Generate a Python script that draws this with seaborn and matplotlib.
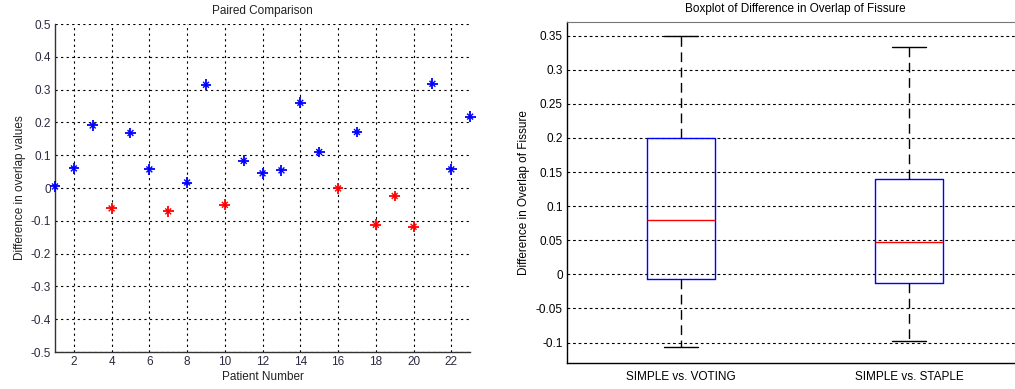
import numpy as np
import pandas as pd
import matplotlib
matplotlib.use("Agg")
import matplotlib.pyplot as plt
from matplotlib.ticker import FormatStrFormatter
import seaborn as sns

# Per-patient difference in overlap values
patients = list(range(1, 24))
differences = [0.005, 0.060, 0.191, -0.062, 0.168, 0.057, -0.071, 0.017, 0.315,
               -0.051, 0.083, 0.045, 0.054, 0.260, 0.110, -0.001, 0.171, -0.112,
               -0.024, -0.118, 0.318, 0.057, 0.218]

# Five-number summaries of the two comparisons (min, Q1, median, Q3, max)
comparisons = ["SIMPLE vs. VOTING", "SIMPLE vs. STAPLE"]
voting_summary = [-0.106, -0.007, 0.079, 0.200, 0.349]
staple_summary = [-0.097, -0.012, 0.048, 0.140, 0.333]

sns.set_style("white")
plt.rcParams["font.family"] = ["Liberation Sans", "DejaVu Sans"]

fig = plt.figure(figsize=(10.15, 3.89), dpi=100)

# ---------------- Paired comparison scatter ----------------
ax1 = fig.add_axes([0.0542, 0.095, 0.409, 0.843])
paired = pd.DataFrame({
    "patient": patients,
    "diff": differences,
    "sign": ["pos" if d >= 0 else "neg" for d in differences],
})
pal = {"pos": "#0000ff", "neg": "#ff0000"}
sns.scatterplot(data=paired, x="patient", y="diff", hue="sign", palette=pal,
                marker="+", s=60, linewidth=1.3, legend=False, ax=ax1,
                zorder=3, clip_on=False)
sns.scatterplot(data=paired, x="patient", y="diff", hue="sign", palette=pal,
                marker="x", s=18, linewidth=1.0, legend=False, ax=ax1,
                zorder=3, clip_on=False)
ax1.set_xlim(1, 23)
ax1.set_ylim(-0.5, 0.5)
ax1.set_xticks(range(2, 23, 2))
ax1.set_yticks(np.round(np.arange(-0.5, 0.51, 0.1), 1) + 0.0)
ax1.yaxis.set_major_formatter(FormatStrFormatter("%g"))
ax1.set_yticklabels(["-0.5", "-0.4", "-0.3", "-0.2", "-0.1", "0",
                     "0.1", "0.2", "0.3", "0.4", "0.5"])
ax1.grid(True, linestyle=(0, (2, 3)), color="black", linewidth=0.8)
ax1.set_axisbelow(True)
for side in ["top", "right"]:
    ax1.spines[side].set_visible(False)
for side in ["left", "bottom"]:
    ax1.spines[side].set_color("#333333")
    ax1.spines[side].set_linewidth(1.0)
ax1.tick_params(axis="both", direction="in", length=3, labelsize=8.5,
                labelcolor="#2a2a40", color="#333333", pad=3)
ax1.set_title("Paired Comparison", fontsize=8.5, color="#222222", pad=7)
ax1.set_xlabel("Patient Number", fontsize=8.5, color="#222222", labelpad=2)
ax1.set_ylabel("Difference in overlap values", fontsize=8.5, color="#222222",
               labelpad=3)

# ---------------- Boxplot of the two comparisons ----------------
ax2 = fig.add_axes([0.5586, 0.0668, 0.4493, 0.8766])
box_df = pd.DataFrame({
    "comparison": [comparisons[0]] * len(voting_summary) + [comparisons[1]] * len(staple_summary),
    "value": voting_summary + staple_summary,
})
sns.boxplot(data=box_df, x="comparison", y="value", order=comparisons,
            fill=False, width=0.3, whis=1.5, ax=ax2, zorder=3,
            boxprops=dict(color="#0000ff", linewidth=1.0),
            medianprops=dict(color="#ff0000", linewidth=1.0),
            whiskerprops=dict(color="black", linewidth=1.0,
                              linestyle=(0, (7, 4))),
            capprops=dict(color="black", linewidth=1.0),
            showfliers=False)
ax2.set_xlim(-0.5, 1.5)
ax2.set_ylim(-0.13, 0.37)
ax2.set_yticks(np.round(np.arange(-0.1, 0.351, 0.05), 2) + 0.0)
ax2.set_yticklabels(["-0.1", "-0.05", "0", "0.05", "0.1", "0.15", "0.2",
                     "0.25", "0.3", "0.35"])
ax2.yaxis.grid(True, linestyle=(0, (2.5, 2.5)), color="black", linewidth=0.8)
ax2.xaxis.grid(False)
ax2.set_axisbelow(True)
ax2.spines["top"].set_color("#777777")
ax2.spines["right"].set_visible(False)
for side in ["left", "bottom"]:
    ax2.spines[side].set_color("black")
    ax2.spines[side].set_linewidth(1.0)
ax2.tick_params(axis="y", direction="in", length=3, labelsize=8.5,
                labelcolor="black", pad=3)
ax2.tick_params(axis="x", length=0, labelsize=8.5, labelcolor="black", pad=6)
ax2.set_title("Boxplot of Difference in Overlap of Fissure", fontsize=8.5,
              color="black", pad=7)
ax2.set_xlabel("")
ax2.set_ylabel("Difference in Overlap of Fissure", fontsize=8.5, color="black",
               labelpad=4)

fig.savefig("out.png", dpi=100)
